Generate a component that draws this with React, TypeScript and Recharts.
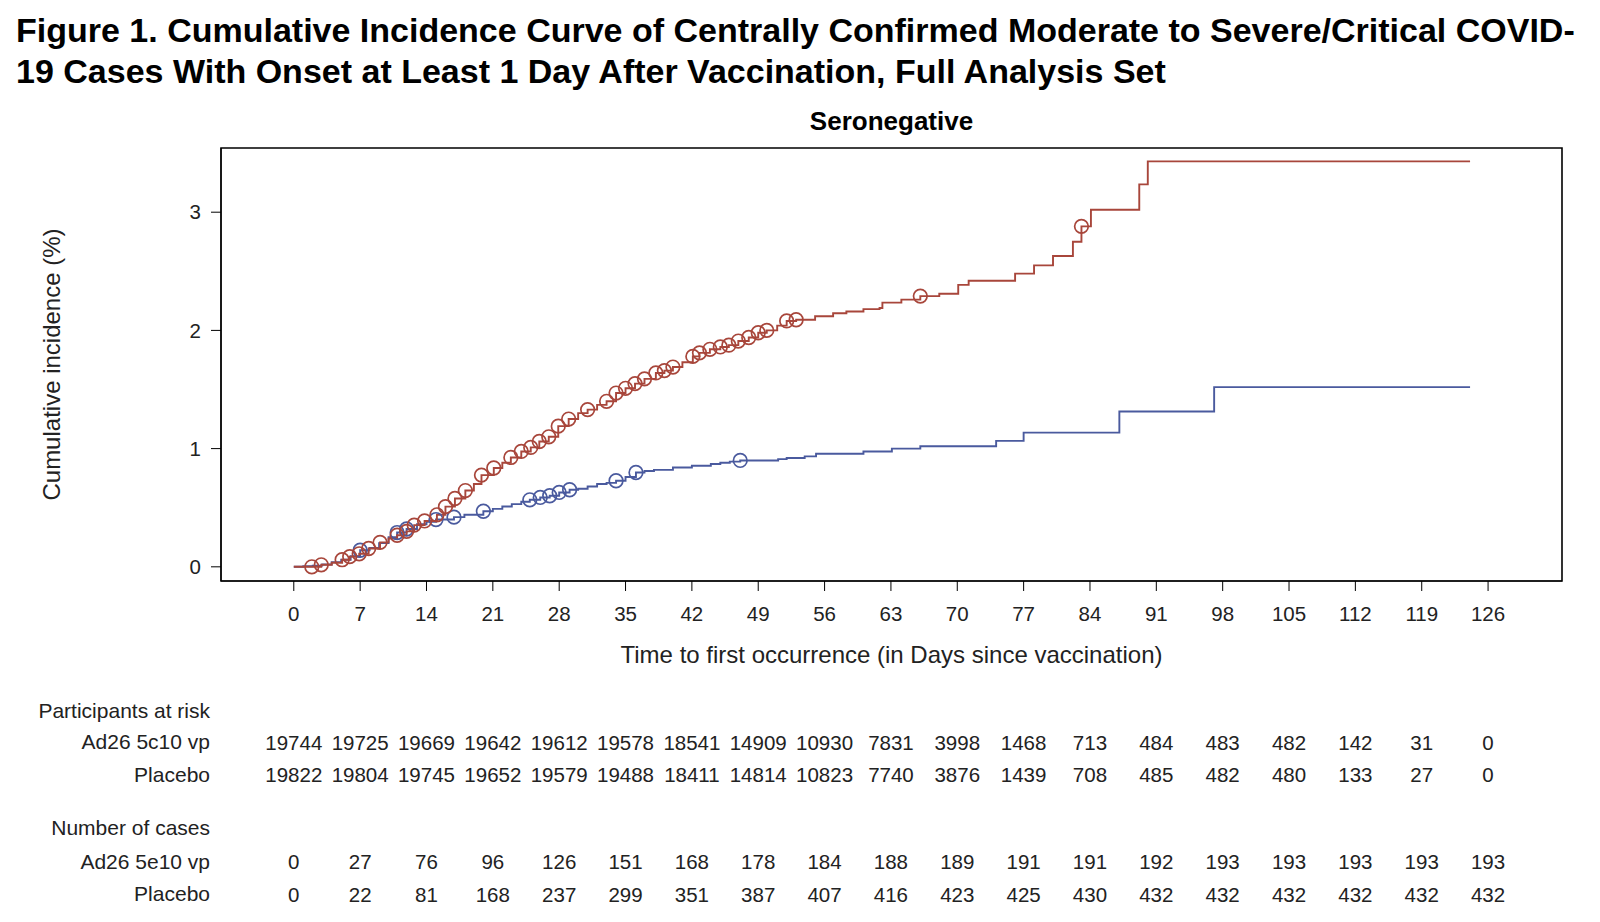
import React from "react";
import {
  ComposedChart,
  Line,
  Scatter,
  XAxis,
  YAxis,
  ReferenceArea,
  Text,
} from "recharts";

// day, cumulative incidence (%)
const placeboSteps: [number, number][] = [
  [0, 0], [2.9, 0.017], [4, 0.035], [5.1, 0.06], [5.9, 0.086], [6.9, 0.11], [7.9, 0.155],
  [9.1, 0.207], [10, 0.24], [10.9, 0.267], [11.9, 0.3], [12.7, 0.353], [13.8, 0.388],
  [15.1, 0.44], [16, 0.509], [17, 0.578], [18.1, 0.645], [19, 0.7], [19.8, 0.776],
  [21.1, 0.836], [22, 0.88], [22.9, 0.925], [24, 0.976], [25, 1.01], [25.9, 1.06],
  [26.9, 1.1], [27.9, 1.19], [29, 1.25], [30, 1.3], [31, 1.33], [32, 1.37], [33, 1.4],
  [34, 1.47], [35, 1.51], [36, 1.55], [37, 1.59], [38.2, 1.64], [39.1, 1.66], [40, 1.69],
  [41, 1.73], [42.1, 1.78], [42.8, 1.81], [43.9, 1.84], [45, 1.86], [45.9, 1.875],
  [46.9, 1.91], [48, 1.94], [49, 1.98], [49.9, 2.0], [51, 2.04], [52, 2.08], [53, 2.09],
  [55, 2.12], [56.9, 2.145], [58.3, 2.16], [60.1, 2.18], [61.8, 2.19], [62.1, 2.235],
  [64.1, 2.26], [66.1, 2.29], [68.1, 2.31], [70.1, 2.385], [71.2, 2.42], [76.1, 2.48],
  [78.1, 2.55], [80.1, 2.63], [82.2, 2.75], [83.1, 2.88], [84.1, 3.02], [89.2, 3.235],
  [90.1, 3.43], [124.1, 3.43],
];

const placeboCensored: [number, number][] = [
  [1.9, 0], [2.9, 0.017], [5.1, 0.06], [5.9, 0.086], [6.9, 0.11], [7.9, 0.155], [9.1, 0.207],
  [10.9, 0.267], [11.9, 0.3], [12.7, 0.353], [13.8, 0.388], [15.1, 0.44], [16, 0.509],
  [17, 0.578], [18.1, 0.645], [19.8, 0.776], [21.1, 0.836], [22.9, 0.925], [24, 0.976],
  [25, 1.01], [25.9, 1.06], [26.9, 1.1], [27.9, 1.19], [29, 1.25], [31, 1.33], [33, 1.4],
  [34, 1.47], [35, 1.51], [36, 1.55], [37, 1.59], [38.2, 1.64], [39.1, 1.66], [40, 1.69],
  [42.1, 1.78], [42.8, 1.81], [43.9, 1.84], [45, 1.86], [45.9, 1.875], [46.9, 1.91],
  [48, 1.94], [49, 1.98], [49.9, 2.0], [52, 2.08], [53, 2.09], [66.1, 2.29], [83.1, 2.88],
];

const vaccineSteps: [number, number][] = [
  [0, 0], [1, 0.005], [2, 0.01], [3, 0.02], [4, 0.04], [5, 0.06], [6, 0.09], [7, 0.14],
  [8, 0.16], [9, 0.2], [10, 0.25], [10.9, 0.29], [11.9, 0.32], [13, 0.36], [14, 0.38],
  [15, 0.4], [16.9, 0.42], [18, 0.44], [20, 0.47], [21, 0.49], [22, 0.51], [23, 0.53],
  [24, 0.55], [24.9, 0.567], [26, 0.587], [27, 0.601], [28, 0.629], [29.1, 0.652],
  [30, 0.66], [31, 0.68], [32, 0.7], [33, 0.71], [34, 0.728], [35, 0.76], [36.1, 0.798],
  [37, 0.81], [38, 0.82], [40, 0.84], [42, 0.855], [44, 0.87], [45, 0.88], [46, 0.89],
  [47.1, 0.9], [51.1, 0.911], [52, 0.92], [53.9, 0.934], [55.1, 0.956], [60.1, 0.976],
  [63.1, 1.0], [66.1, 1.02], [74.1, 1.065], [77, 1.135], [87.1, 1.314], [97.1, 1.52],
  [124.1, 1.52],
];

const vaccineCensored: [number, number][] = [
  [7, 0.14], [10.9, 0.29], [11.9, 0.32], [15, 0.4], [16.9, 0.42], [20, 0.47], [24.9, 0.567],
  [26, 0.587], [27, 0.601], [28, 0.629], [29.1, 0.652], [34, 0.728], [36.1, 0.798], [47.1, 0.9],
];

const dayTicks = [0, 7, 14, 21, 28, 35, 42, 49, 56, 63, 70, 77, 84, 91, 98, 105, 112, 119, 126];
const incidenceTicks = [0, 1, 2, 3];

const atRiskVaccine = [19744, 19725, 19669, 19642, 19612, 19578, 18541, 14909, 10930, 7831, 3998, 1468, 713, 484, 483, 482, 142, 31, 0];
const atRiskPlacebo = [19822, 19804, 19745, 19652, 19579, 19488, 18411, 14814, 10823, 7740, 3876, 1439, 708, 485, 482, 480, 133, 27, 0];
const casesVaccine = [0, 27, 76, 96, 126, 151, 168, 178, 184, 188, 189, 191, 191, 192, 193, 193, 193, 193, 193];
const casesPlacebo = [0, 22, 81, 168, 237, 299, 351, 387, 407, 416, 423, 425, 430, 432, 432, 432, 432, 432, 432];

const RED = "#A8463B";
const BLUE = "#4A5A9E";
const FONT = '"Liberation Sans", Arial, sans-serif';
const TXT = "#222";
const X_DOMAIN: [number, number] = [-7.68, 133.8];
const Y_DOMAIN: [number, number] = [-0.12, 3.543];

// table rows drawn under each x tick: values and vertical offset from the tick label
const tableRows: { values: number[]; dy: number }[] = [
  { values: atRiskVaccine, dy: 129 },
  { values: atRiskPlacebo, dy: 161 },
  { values: casesVaccine, dy: 248 },
  { values: casesPlacebo, dy: 281 },
];

const rowLabels = [
  { text: "Participants at risk", y: 711 },
  { text: "Ad26 5c10 vp", y: 742 },
  { text: "Placebo", y: 775 },
  { text: "Number of cases", y: 828 },
  { text: "Ad26 5e10 vp", y: 862 },
  { text: "Placebo", y: 894 },
];

const toPoints = (rows: [number, number][]) => rows.map(([day, pct]) => ({ day, pct }));

const ringShape = (color: string) => (props: any) => (
  <circle cx={props.cx} cy={props.cy} r={6.8} fill="none" stroke={color} strokeWidth={1.7} />
);

const DayTick = (props: any) => {
  const { x, y, payload, index } = props;
  const labelY = y + 23;
  return (
    <g>
      <Text x={x} y={labelY} textAnchor="middle" verticalAnchor="middle" fontSize={20.5} fontFamily={FONT} fill={TXT}>
        {String(payload.value)}
      </Text>
      {tableRows.map((row, i) => (
        <Text
          key={i}
          x={x}
          y={labelY + row.dy}
          textAnchor="middle"
          verticalAnchor="middle"
          fontSize={20.5}
          fontFamily={FONT}
          fill={TXT}
        >
          {String(row.values[index])}
        </Text>
      ))}
    </g>
  );
};

export default function App() {
  const placebo = toPoints(placeboSteps);
  const vaccine = toPoints(vaccineSteps);
  return (
    <div
      style={{
        position: "absolute",
        left: 0,
        top: 0,
        width: 1600,
        height: 922,
        background: "#fff",
        fontFamily: FONT,
        overflow: "hidden",
      }}
    >
      <div
        style={{
          position: "absolute",
          left: 16,
          top: 10,
          fontSize: 34,
          fontWeight: 700,
          lineHeight: "41px",
          color: "#000",
          whiteSpace: "nowrap",
        }}
      >
        Figure 1. Cumulative Incidence Curve of Centrally Confirmed Moderate to Severe/Critical COVID-
        <br />
        19 Cases With Onset at Least 1 Day After Vaccination, Full Analysis Set
      </div>
      <div
        style={{
          position: "absolute",
          left: 891.5,
          top: 106,
          transform: "translateX(-50%)",
          fontSize: 26,
          fontWeight: 700,
          lineHeight: "30px",
          whiteSpace: "nowrap",
        }}
      >
        Seronegative
      </div>
      {rowLabels.map((r, i) => (
        <div
          key={i}
          style={{
            position: "absolute",
            right: 1600 - 210,
            top: r.y - 12,
            fontSize: 21,
            lineHeight: "24px",
            color: TXT,
            whiteSpace: "nowrap",
            textAlign: "right",
          }}
        >
          {r.text}
        </div>
      ))}
      <div style={{ position: "absolute", left: 0, top: 0 }}>
        <ComposedChart
          width={1600}
          height={922}
          margin={{ top: 148, right: 38, bottom: 0, left: 0 }}
        >
          <XAxis
            type="number"
            dataKey="day"
            domain={X_DOMAIN}
            allowDataOverflow
            ticks={dayTicks}
            interval={0}
            height={341}
            stroke="#000"
            tickSize={10}
            tickMargin={0}
            tick={<DayTick />}
            label={{
              value: "Time to first occurrence (in Days since vaccination)",
              position: "insideTop",
              offset: 65,
              style: { fontSize: 24, fontFamily: FONT, fill: TXT },
            }}
          />
          <YAxis
            type="number"
            dataKey="pct"
            domain={Y_DOMAIN}
            allowDataOverflow
            ticks={incidenceTicks}
            width={221}
            stroke="#000"
            tickSize={10}
            tickMargin={10}
            tick={{ fontSize: 20.5, fontFamily: FONT, fill: TXT }}
            label={{
              value: "Cumulative incidence (%)",
              angle: -90,
              position: "insideLeft",
              offset: 51,
              style: { fontSize: 24, fontFamily: FONT, fill: TXT, textAnchor: "middle" },
            }}
          />
          <ReferenceArea
            x1={X_DOMAIN[0]}
            x2={X_DOMAIN[1]}
            y1={Y_DOMAIN[0]}
            y2={Y_DOMAIN[1]}
            fill="none"
            stroke="#000"
            strokeWidth={1.6}
          />
          <Line
            data={vaccine}
            dataKey="pct"
            type="stepAfter"
            stroke={BLUE}
            strokeWidth={1.9}
            dot={false}
            isAnimationActive={false}
          />
          <Scatter
            data={toPoints(vaccineCensored)}
            dataKey="pct"
            shape={ringShape(BLUE)}
            isAnimationActive={false}
          />
          <Line
            data={placebo}
            dataKey="pct"
            type="stepAfter"
            stroke={RED}
            strokeWidth={1.9}
            dot={false}
            isAnimationActive={false}
          />
          <Scatter
            data={toPoints(placeboCensored)}
            dataKey="pct"
            shape={ringShape(RED)}
            isAnimationActive={false}
          />
        </ComposedChart>
      </div>
    </div>
  );
}
